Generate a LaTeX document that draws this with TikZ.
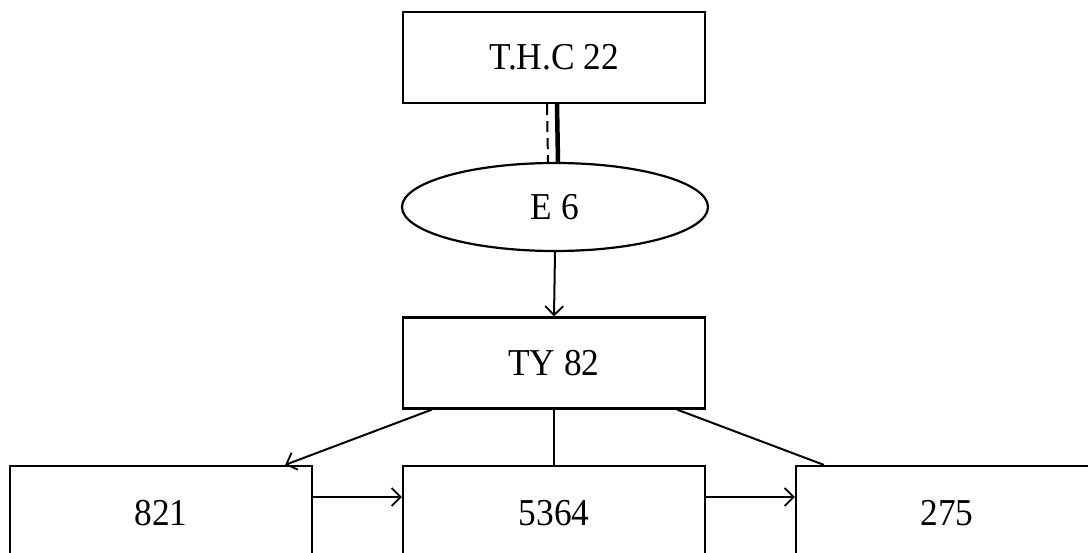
\documentclass[tikz,border=0pt]{standalone}
\usepackage{fontspec}
\setmainfont{Liberation Serif}[FakeStretch=0.93]
\usetikzlibrary{shapes.geometric,arrows.meta}
\begin{document}
\begin{tikzpicture}[x=1pt,y=-1pt,
  box/.style={draw,line width=2.2pt,minimum width=302pt,minimum height=91pt,inner sep=0pt,font=\fontsize{38}{40}\selectfont},
  lowbox/.style={box,minimum height=94pt},
  oval/.style={draw,ellipse,line width=2.2pt,minimum width=306pt,minimum height=88pt,inner sep=0pt,font=\fontsize{38}{40}\selectfont},
  conn/.style={line width=2pt},
  arr/.style={conn,-{Straight Barb[length=9pt,width=18pt,line width=1.8pt]}}]
\useasboundingbox (0,0) rectangle (1088,553);
\node[box] (thc) at (554,57.5) {T.H.C 22};
\node[oval] (e6) at (555,207) {E 6};
\node[box] (ty) at (554,363) {TY 82};
\node[lowbox] (b821) at (161,513) {821};
\node[lowbox] (b5364) at (554,513) {5364};
\node[lowbox] (b275) at (947,513) {275};
\draw[line width=2pt,dash pattern=on 11pt off 6pt] ([xshift=-7pt]thc.south) -- ([xshift=-7pt]e6.north);
\draw[line width=4.5pt] ([xshift=3pt]thc.south) -- ([xshift=3pt]e6.north);
\draw[arr] (e6.south) -- (ty.north);
\draw[arr] ([xshift=30pt]ty.south west) -- ([xshift=-28pt]b821.north east);
\draw[conn] (ty.south) -- (b5364.north);
\draw[conn] ([xshift=-29pt]ty.south east) -- ([xshift=29pt]b275.north west);
\draw[arr] ([yshift=16pt]b821.east) -- ([yshift=16pt]b5364.west);
\draw[arr] ([yshift=16pt]b5364.east) -- ([yshift=16pt]b275.west);
\end{tikzpicture}
\end{document}
